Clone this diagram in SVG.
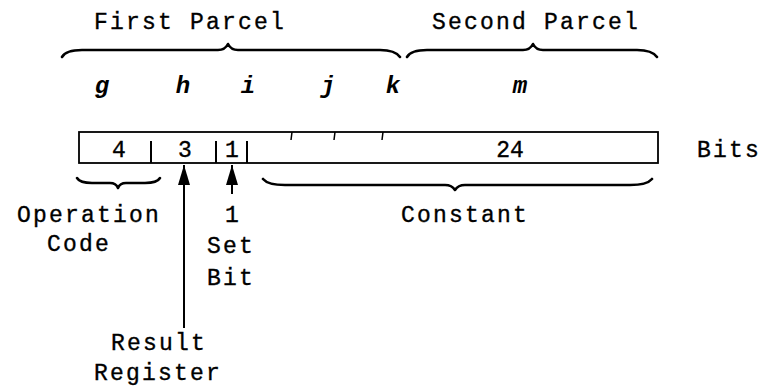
<svg xmlns="http://www.w3.org/2000/svg" width="771" height="387" viewBox="0 0 771 387">
<style>
  .t { font-family: "Liberation Mono", "DejaVu Sans Mono", monospace; font-size: 23px; fill: #000; stroke: #000; stroke-width: 0.35; letter-spacing: 2.2px; }
  .v { font-family: "Liberation Mono", "DejaVu Sans Mono", monospace; font-size: 24px; font-style: italic; font-weight: bold; fill: #000; text-anchor: middle; }
  .n { font-family: "Liberation Mono", "DejaVu Sans Mono", monospace; font-size: 23px; fill: #000; stroke: #000; stroke-width: 0.35; text-anchor: middle; }
  .brace { fill: none; stroke: #000; stroke-width: 2.6; stroke-linecap: round; stroke-linejoin: round; }
  .box { fill: #fff; stroke: #000; stroke-width: 1.8; }
  .div { stroke: #000; stroke-width: 2; }
  .tick { stroke: #000; stroke-width: 1.5; }
  .conn { stroke: #000; stroke-width: 2; fill: none; }
</style>
<defs>
  <marker id="ah" viewBox="0 0 20 12" refX="20" refY="6" markerWidth="20" markerHeight="12" markerUnits="userSpaceOnUse" orient="auto">
    <path d="M20,6 L0,0 L0,12 Z" fill="#000"/>
  </marker>
</defs>
<rect width="771" height="387" fill="#fff"/>

<g id="first-parcel">
  <text class="t" x="94" y="29">First Parcel</text>
  <path class="brace" d="M62,57 Q66,50 82,50 L218,50 Q225,50 228,44 Q231,50 238,50 L380,50 Q395,50 400,57"/>
</g>
<g id="second-parcel">
  <text class="t" x="432" y="29">Second Parcel</text>
  <path class="brace" d="M407,57 Q411,50 427,50 L523,50 Q530,50 533,44 Q536,50 543,50 L637,50 Q652,50 657,57"/>
</g>

<g id="field-letters">
  <text class="v" x="102" y="93">g</text>
  <text class="v" x="183" y="93">h</text>
  <text class="v" x="248" y="93">i</text>
  <text class="v" x="328" y="93">j</text>
  <text class="v" x="393" y="93">k</text>
  <text class="v" x="520" y="93">m</text>
</g>

<g id="instruction-word">
  <rect class="box" x="79" y="132" width="579" height="31"/>
  <line class="div" x1="151" y1="141" x2="151" y2="163"/>
  <line class="div" x1="216" y1="141" x2="216" y2="163"/>
  <line class="div" x1="247" y1="141" x2="247" y2="163"/>
  <line class="tick" x1="292" y1="132" x2="291" y2="140"/>
  <line class="tick" x1="335" y1="132" x2="334" y2="140"/>
  <line class="tick" x1="383" y1="132" x2="382" y2="140"/>
  <text class="n" x="119" y="157">4</text>
  <text class="n" x="185" y="157">3</text>
  <text class="n" x="232" y="157">1</text>
  <text class="n" x="510" y="157">24</text>
</g>

<g id="bits-label">
  <text class="t" x="697" y="157">Bits</text>
</g>

<g id="operation-code">
  <path class="brace" d="M77,178 Q80,183 92,183 L110,183 Q116,183 118,188 Q120,183 126,183 L145,183 Q157,183 160,178"/>
  <text class="t" x="17" y="222">Operation</text>
  <text class="t" x="47" y="251">Code</text>
</g>

<g id="set-bit">
  <text class="n" x="232" y="222">1</text>
  <text class="t" x="207" y="253">Set</text>
  <text class="t" x="207" y="285">Bit</text>
</g>

<g id="constant">
  <path class="brace" d="M263,179 Q268,185 285,185 L445,185 Q452,185 455,190 Q458,185 465,185 L630,185 Q647,185 652,179"/>
  <text class="t" x="401" y="222">Constant</text>
</g>

<g id="result-register">
  <text class="t" x="111" y="350">Result</text>
  <text class="t" x="94" y="380">Register</text>
</g>

<g id="connectors">
  <line class="conn" x1="184" y1="328" x2="184" y2="165" marker-end="url(#ah)"/>
  <line class="conn" x1="232" y1="194" x2="232" y2="165" marker-end="url(#ah)"/>
</g>
</svg>
